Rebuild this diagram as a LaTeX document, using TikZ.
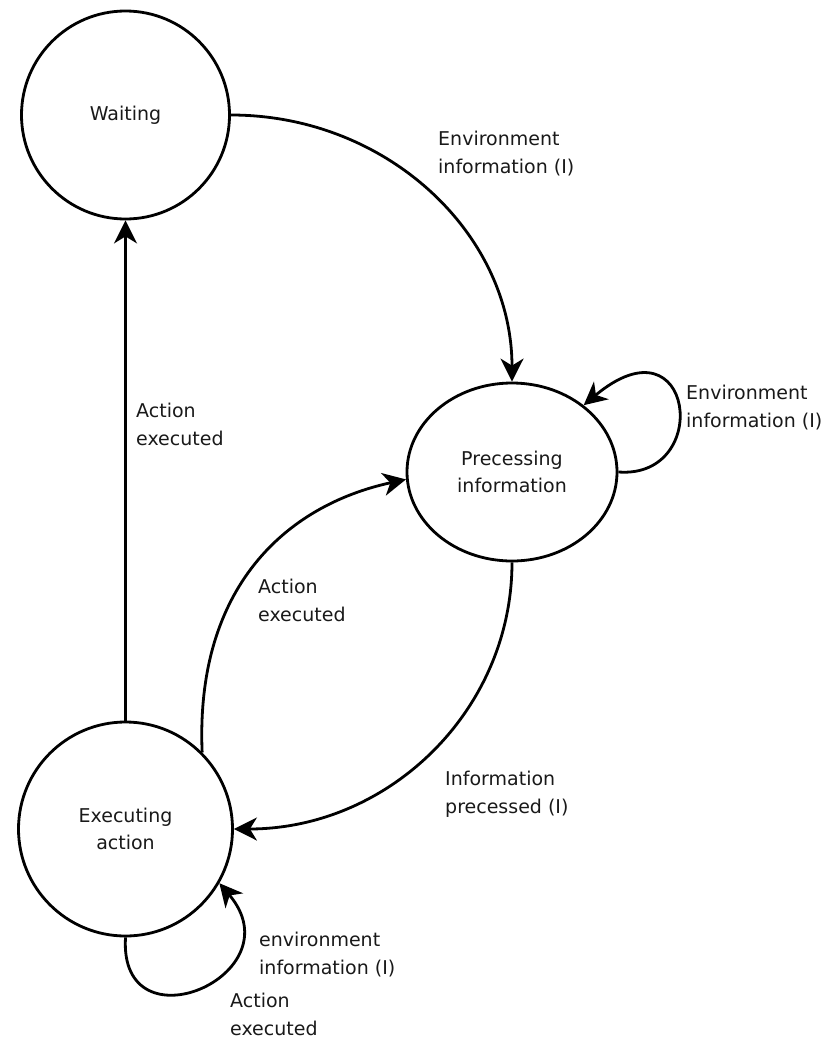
\documentclass[tikz,border=0pt]{standalone}
\usepackage{fontspec}
\setmainfont{DejaVu Sans}
\usetikzlibrary{arrows.meta,shapes.geometric}
\begin{document}
\begin{tikzpicture}[x=1pt,y=-1pt,
  every node/.style={font=\fontsize{19}{27.5}\selectfont, text=black!90},
  state/.style={draw, line width=2.8pt, inner sep=0pt, align=center},
  edge/.style={draw, line width=2.8pt, -{Stealth[length=23pt,width=23pt,inset=7pt]}},
  lbl/.style={anchor=base west, align=left, inner sep=0pt}]
  \useasboundingbox (0,0) rectangle (827,1039);

  % states
  \node[state, circle, minimum size=208pt] (W) at (125.5,115) {Waiting};
  \node[state, ellipse, minimum width=210pt, minimum height=178pt] (P) at (512,472) {Precessing\\information};
  \node[state, circle, minimum size=214pt] (E) at (125.5,829) {Executing\\action};

  % transitions
  \draw[edge] (W.east) .. controls +(156,0) and +(0,-148) .. (P.north);
  \draw[edge] (E.north) -- (W.south);
  \draw[edge] (E.45) .. controls +(-7,-165) and +(-120,26) .. (P.184);
  \draw[edge] (P.south) .. controls +(0,148) and +(155,0) .. (E.east);
  \draw[edge] (P.east) .. controls +(95,7) and +(110,-92) .. (P.43);
  \draw[edge] (E.south) .. controls +(-7,114) and +(78,92) .. (E.-30);

  % transition labels (placed at the baseline of their last line)
  \node[lbl] (l1) at (438,173) {Environment\\information (I)};
  \node[lbl] (l2) at (136,445) {Action\\executed};
  \node[lbl] (l3) at (258,621) {Action\\executed};
  \node[lbl] (l4) at (686,427) {Environment\\information (I)};
  \node[lbl] (l5) at (445,813) {Information\\precessed (I)};
  \node[lbl] (l6) at (259,974) {environment\\information (I)};
  \node[lbl] (l7) at (230,1035) {Action\\executed};
\end{tikzpicture}
\end{document}
